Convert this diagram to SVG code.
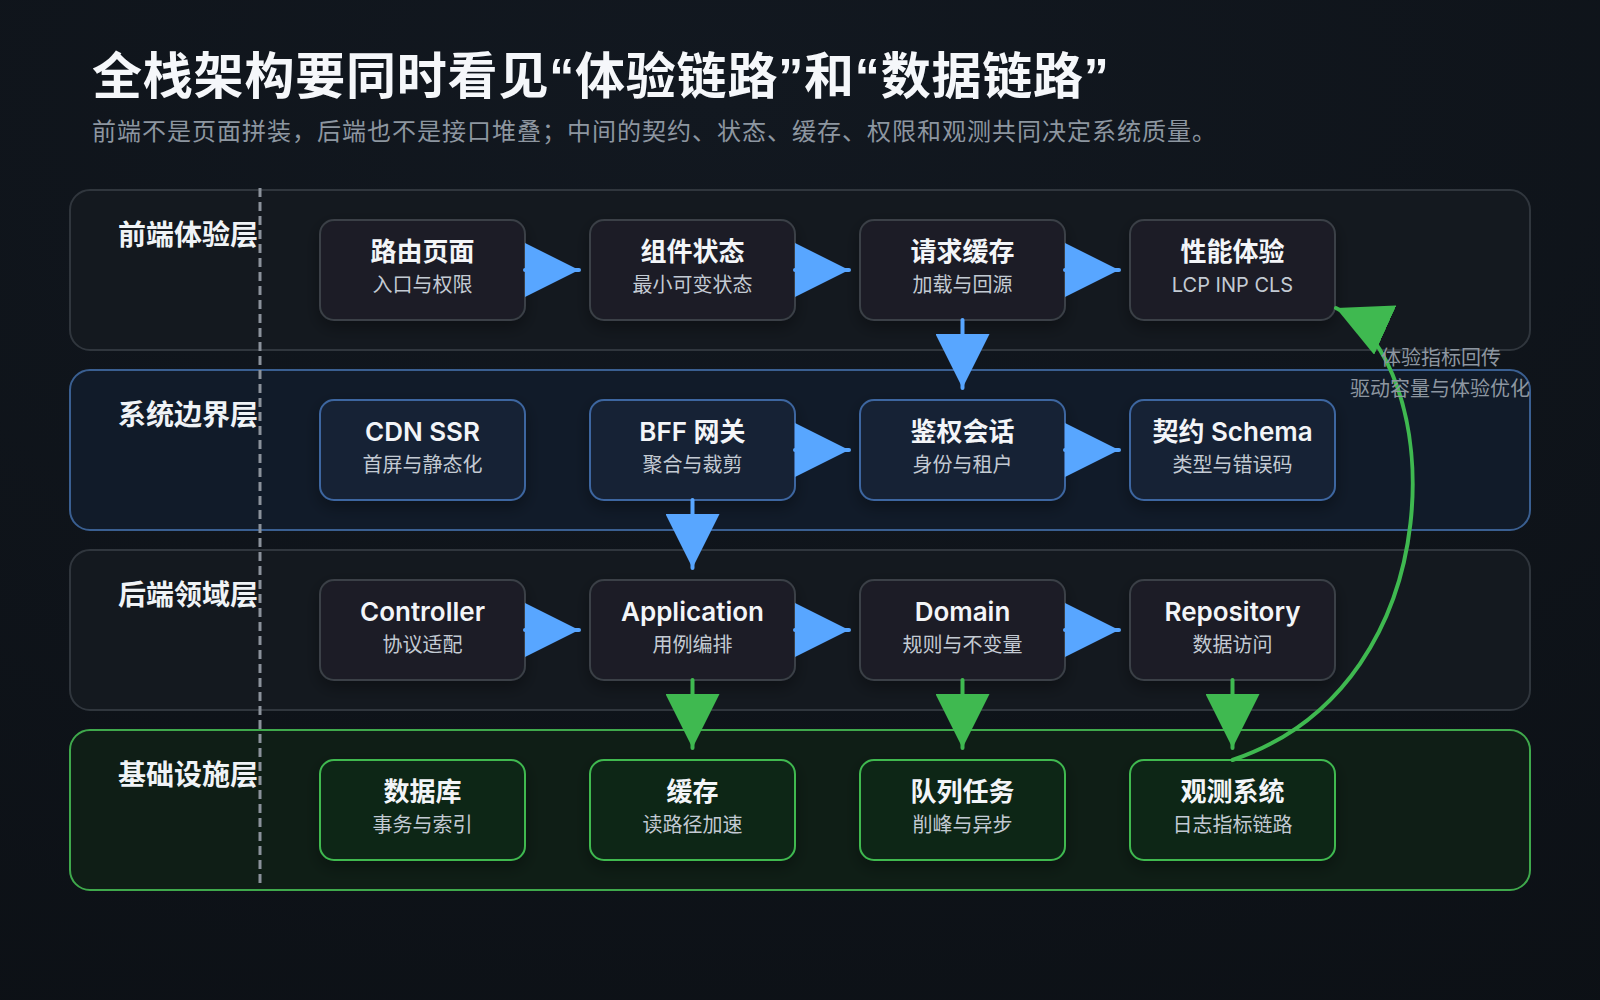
<svg xmlns="http://www.w3.org/2000/svg" width="1600" height="1000" viewBox="0 0 1600 1000">
  <defs>
    <radialGradient id="bg" cx="0.45" cy="0.1" r="1.1">
      <stop offset="0" stop-color="#121820"/>
      <stop offset="1" stop-color="#0c1015"/>
    </radialGradient>
    <marker id="ah-blue" markerUnits="userSpaceOnUse" markerWidth="54" markerHeight="54" viewBox="0 0 54 54" refX="54" refY="27" orient="auto">
      <path d="M0,0 L54,27 L0,54 z" fill="#58a6ff"/>
    </marker>
    <marker id="ah-green" markerUnits="userSpaceOnUse" markerWidth="54" markerHeight="54" viewBox="0 0 54 54" refX="54" refY="27" orient="auto">
      <path d="M0,0 L54,27 L0,54 z" fill="#3fb950"/>
    </marker>
    <filter id="shadow" x="-20%" y="-20%" width="140%" height="150%">
      <feDropShadow dx="0" dy="6" stdDeviation="8" flood-color="#000000" flood-opacity="0.35"/>
    </filter>
    <style>
      .title { font-family: "Noto Sans CJK SC", sans-serif; font-size: 50px; font-weight: 700; letter-spacing: 0.8px; fill: #f5f7fa; }
      .q { font-family: "Liberation Sans", sans-serif; font-weight: 700; }
      .subtitle { font-family: "Noto Sans CJK SC", sans-serif; font-size: 24px; letter-spacing: 1px; fill: #8d96a0; }
      .lane { stroke-width: 2; }
      .lane-neutral { fill: #14191f; stroke: #30363d; }
      .lane-blue { fill: #111b29; stroke: #3a5f91; }
      .lane-green { fill: #0f1e16; stroke: #3fa94c; }
      .lane-label { font-family: "Noto Sans CJK SC", sans-serif; font-size: 28px; font-weight: 700; fill: #f0f3f6; }
      .divider { stroke: #8b929b; stroke-width: 3; stroke-dasharray: 9 5; fill: none; }
      .node rect { stroke-width: 2; filter: url(#shadow); }
      .n-neutral rect { fill: #1b1f25; stroke: #3a3f46; }
      .n-blue rect { fill: #162236; stroke: #3d66a0; }
      .n-green rect { fill: #0f2518; stroke: #3fb950; }
      .nt { font-family: Inter, "Noto Sans CJK SC", sans-serif; font-size: 26px; font-weight: 600; fill: #f3f5f8; text-anchor: middle; }
      .ns { font-family: Inter, "Noto Sans CJK SC", sans-serif; font-size: 20px; fill: #c3cad3; text-anchor: middle; }
      .c-blue { stroke: #58a6ff; stroke-width: 4; stroke-linecap: round; fill: none; marker-end: url(#ah-blue); }
      .c-green { stroke: #3fb950; stroke-width: 4; stroke-linecap: round; fill: none; marker-end: url(#ah-green); }
      .note { font-family: "Noto Sans CJK SC", sans-serif; font-size: 20px; fill: #8d96a0; text-anchor: middle; }
    </style>
  </defs>

  <rect x="0" y="0" width="1600" height="1000" fill="url(#bg)"/>

  <g id="header">
    <text class="title" x="92" y="94">全栈架构要同时看见<tspan class="q">“</tspan>体验链路<tspan class="q">”</tspan>和<tspan class="q">“</tspan>数据链路<tspan class="q">”</tspan></text>
    <text class="subtitle" x="92" y="140">前端不是页面拼装，后端也不是接口堆叠；中间的契约、状态、缓存、权限和观测共同决定系统质量。</text>
  </g>

  <g id="lanes">
    <g id="lane-frontend">
      <rect class="lane lane-neutral" x="70" y="190" width="1460" height="160" rx="20"/>
      <text class="lane-label" x="118" y="245">前端体验层</text>
    </g>
    <g id="lane-boundary">
      <rect class="lane lane-blue" x="70" y="370" width="1460" height="160" rx="20"/>
      <text class="lane-label" x="118" y="425">系统边界层</text>
    </g>
    <g id="lane-backend">
      <rect class="lane lane-neutral" x="70" y="550" width="1460" height="160" rx="20"/>
      <text class="lane-label" x="118" y="605">后端领域层</text>
    </g>
    <g id="lane-infra">
      <rect class="lane lane-green" x="70" y="730" width="1460" height="160" rx="20"/>
      <text class="lane-label" x="118" y="785">基础设施层</text>
    </g>
    <line class="divider" x1="260" y1="188" x2="260" y2="885"/>
  </g>

  <g id="nodes">
    <g id="n-route" class="node n-neutral"><rect x="320" y="220" width="205" height="100" rx="14"/><text class="nt" x="422.5" y="261">路由页面</text><text class="ns" x="422.5" y="292">入口与权限</text></g>
    <g id="n-state" class="node n-neutral"><rect x="590" y="220" width="205" height="100" rx="14"/><text class="nt" x="692.5" y="261">组件状态</text><text class="ns" x="692.5" y="292">最小可变状态</text></g>
    <g id="n-reqcache" class="node n-neutral"><rect x="860" y="220" width="205" height="100" rx="14"/><text class="nt" x="962.5" y="261">请求缓存</text><text class="ns" x="962.5" y="292">加载与回源</text></g>
    <g id="n-perf" class="node n-neutral"><rect x="1130" y="220" width="205" height="100" rx="14"/><text class="nt" x="1232.5" y="261">性能体验</text><text class="ns" x="1232.5" y="292">LCP INP CLS</text></g>

    <g id="n-cdn" class="node n-blue"><rect x="320" y="400" width="205" height="100" rx="14"/><text class="nt" x="422.5" y="441">CDN SSR</text><text class="ns" x="422.5" y="472">首屏与静态化</text></g>
    <g id="n-bff" class="node n-blue"><rect x="590" y="400" width="205" height="100" rx="14"/><text class="nt" x="692.5" y="441">BFF 网关</text><text class="ns" x="692.5" y="472">聚合与裁剪</text></g>
    <g id="n-auth" class="node n-blue"><rect x="860" y="400" width="205" height="100" rx="14"/><text class="nt" x="962.5" y="441">鉴权会话</text><text class="ns" x="962.5" y="472">身份与租户</text></g>
    <g id="n-schema" class="node n-blue"><rect x="1130" y="400" width="205" height="100" rx="14"/><text class="nt" x="1232.5" y="441">契约 Schema</text><text class="ns" x="1232.5" y="472">类型与错误码</text></g>

    <g id="n-controller" class="node n-neutral"><rect x="320" y="580" width="205" height="100" rx="14"/><text class="nt" x="422.5" y="621">Controller</text><text class="ns" x="422.5" y="652">协议适配</text></g>
    <g id="n-application" class="node n-neutral"><rect x="590" y="580" width="205" height="100" rx="14"/><text class="nt" x="692.5" y="621">Application</text><text class="ns" x="692.5" y="652">用例编排</text></g>
    <g id="n-domain" class="node n-neutral"><rect x="860" y="580" width="205" height="100" rx="14"/><text class="nt" x="962.5" y="621">Domain</text><text class="ns" x="962.5" y="652">规则与不变量</text></g>
    <g id="n-repository" class="node n-neutral"><rect x="1130" y="580" width="205" height="100" rx="14"/><text class="nt" x="1232.5" y="621">Repository</text><text class="ns" x="1232.5" y="652">数据访问</text></g>

    <g id="n-db" class="node n-green"><rect x="320" y="760" width="205" height="100" rx="14"/><text class="nt" x="422.5" y="801">数据库</text><text class="ns" x="422.5" y="832">事务与索引</text></g>
    <g id="n-cache" class="node n-green"><rect x="590" y="760" width="205" height="100" rx="14"/><text class="nt" x="692.5" y="801">缓存</text><text class="ns" x="692.5" y="832">读路径加速</text></g>
    <g id="n-queue" class="node n-green"><rect x="860" y="760" width="205" height="100" rx="14"/><text class="nt" x="962.5" y="801">队列任务</text><text class="ns" x="962.5" y="832">削峰与异步</text></g>
    <g id="n-observe" class="node n-green"><rect x="1130" y="760" width="205" height="100" rx="14"/><text class="nt" x="1232.5" y="801">观测系统</text><text class="ns" x="1232.5" y="832">日志指标链路</text></g>
  </g>

  <g id="connectors">
    <line class="c-blue" x1="525" y1="270" x2="579" y2="270"/>
    <line class="c-blue" x1="795" y1="270" x2="849" y2="270"/>
    <line class="c-blue" x1="1065" y1="270" x2="1119" y2="270"/>
    <line class="c-blue" x1="962.5" y1="320" x2="962.5" y2="388"/>
    <line class="c-blue" x1="795" y1="450" x2="849" y2="450"/>
    <line class="c-blue" x1="1065" y1="450" x2="1119" y2="450"/>
    <line class="c-blue" x1="692.5" y1="500" x2="692.5" y2="568"/>
    <line class="c-blue" x1="525" y1="630" x2="579" y2="630"/>
    <line class="c-blue" x1="795" y1="630" x2="849" y2="630"/>
    <line class="c-blue" x1="1065" y1="630" x2="1119" y2="630"/>
    <line class="c-green" x1="692.5" y1="680" x2="692.5" y2="748"/>
    <line class="c-green" x1="962.5" y1="680" x2="962.5" y2="748"/>
    <line class="c-green" x1="1232.5" y1="680" x2="1232.5" y2="748"/>
    <path class="c-green" d="M1232.5,760 C1460,683 1445,357 1336,308"/>
  </g>

  <g id="feedback-label">
    <text class="note" x="1441" y="365">体验指标回传</text>
    <text class="note" x="1440" y="396">驱动容量与体验优化</text>
  </g>
</svg>
